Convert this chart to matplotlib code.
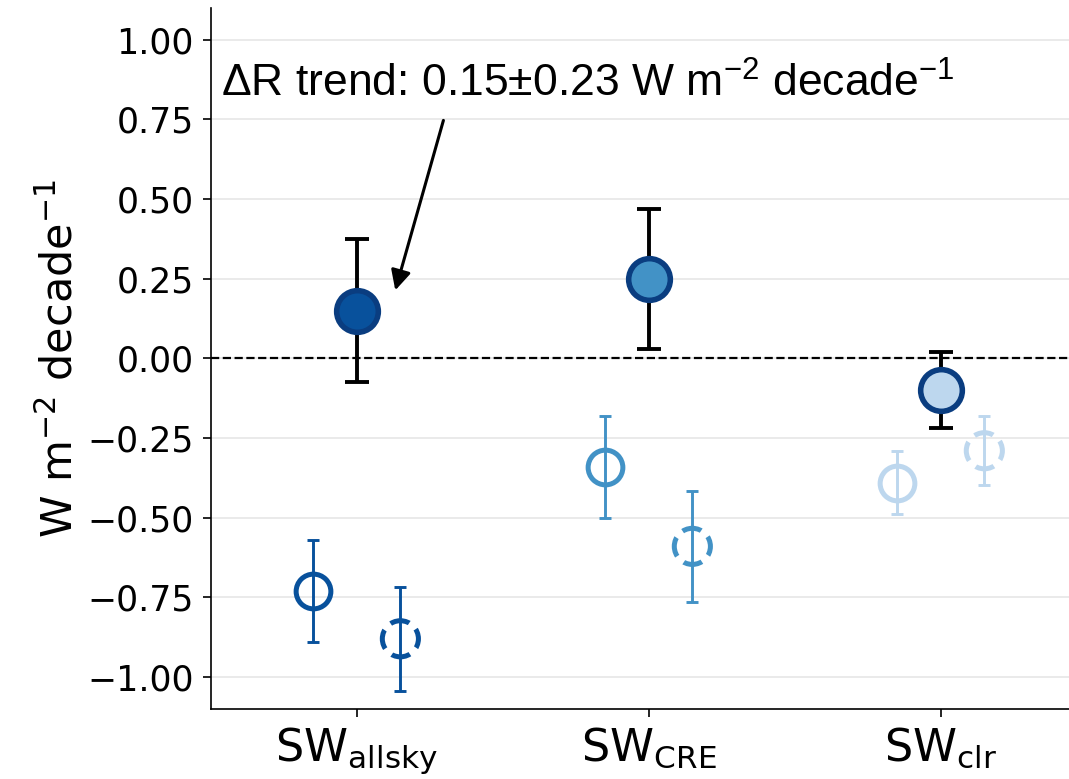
import numpy as np
import matplotlib
matplotlib.use('Agg')
import matplotlib.pyplot as plt

plt.rcParams['font.family'] = ['DejaVu Sans']
plt.rcParams['mathtext.fontset'] = 'dejavusans'

# categorias e tendências (W m-2 decade-1)
categorias = [r'SW$_{\mathregular{allsky}}$', r'SW$_{\mathregular{CRE}}$', r'SW$_{\mathregular{clr}}$']
cores = ['#08519c', '#4292c6', '#bdd7ee']

obs_trend = [0.15, 0.25, -0.10]
obs_err = [0.225, 0.22, 0.12]

mod1_trend = [-0.73, -0.34, -0.39]
mod1_err = [0.16, 0.16, 0.10]

mod2_trend = [-0.88, -0.59, -0.29]
mod2_err = [0.163, 0.175, 0.108]

yticks = [-1.0, -0.75, -0.5, -0.25, 0.0, 0.25, 0.5, 0.75, 1.0]

fig = plt.figure(figsize=(10.69, 7.79), dpi=100)
ax = fig.add_axes([0.197, 0.09, 0.803, 0.9])

x = np.arange(len(categorias))
off = 0.15

ax.axhline(0, color='black', ls='--', lw=1.6, zorder=1)

for i in range(len(categorias)):
    c = cores[i]
    # modelo 1 (círculo aberto)
    ax.errorbar(x[i] - off, mod1_trend[i], yerr=mod1_err[i], fmt='none',
                ecolor=c, elinewidth=2.1, capsize=4.5, capthick=2.1, zorder=2)
    ax.plot(x[i] - off, mod1_trend[i], 'o', ms=25, mfc='none', mec=c, mew=3.6, zorder=3)
    # modelo 2 (círculo tracejado)
    ax.errorbar(x[i] + off, mod2_trend[i], yerr=mod2_err[i], fmt='none',
                ecolor=c, elinewidth=2.1, capsize=4.5, capthick=2.1, zorder=2)
    ax.scatter(x[i] + off, mod2_trend[i], s=26**2, facecolors='none', edgecolors=c,
               linewidths=3.6, linestyle=(1.9, (3.9, 1.8)), zorder=3)
    # observação (círculo cheio)
    ax.errorbar(x[i], obs_trend[i], yerr=obs_err[i], fmt='none',
                ecolor='black', elinewidth=2.8, capsize=8.3, capthick=2.8, zorder=4)
    ax.plot(x[i], obs_trend[i], 'o', ms=30, mfc=c, mec='#0a3d80', mew=4, zorder=5)

ax.set_xlim(-0.5, 2.44)
ax.set_ylim(-1.1, 1.1)
ax.set_xticks(x)
ax.set_xticklabels(categorias, fontsize=32)
ax.set_yticks(yticks)
ax.set_yticklabels([f'{v:.2f}'.replace('-', '\u2212') for v in yticks], fontsize=25)
ax.set_ylabel(r'W m$^{-2}$ decade$^{-1}$', fontsize=31)
ax.tick_params(axis='both', length=6, width=1.2, pad=6)

ax.grid(axis='y', color='#e6e6e6', lw=1.2, zorder=0)
ax.set_axisbelow(True)
for s in ['top', 'right']:
    ax.spines[s].set_visible(False)
for s in ['left', 'bottom']:
    ax.spines[s].set_linewidth(1.2)

ax.annotate('', xy=(0.13, 0.205), xytext=(0.30, 0.755),
            arrowprops=dict(arrowstyle='-|>', color='black', lw=2.2, mutation_scale=30))
ax.text(-0.465, 0.82, '\u0394R trend: 0.15\u00b10.23 W m$^{\\mathregular{-2}}$ decade$^{\\mathregular{-1}}$',
        fontsize=32, family='Liberation Sans', va='baseline', ha='left')

plt.savefig('out.png', dpi=100)
